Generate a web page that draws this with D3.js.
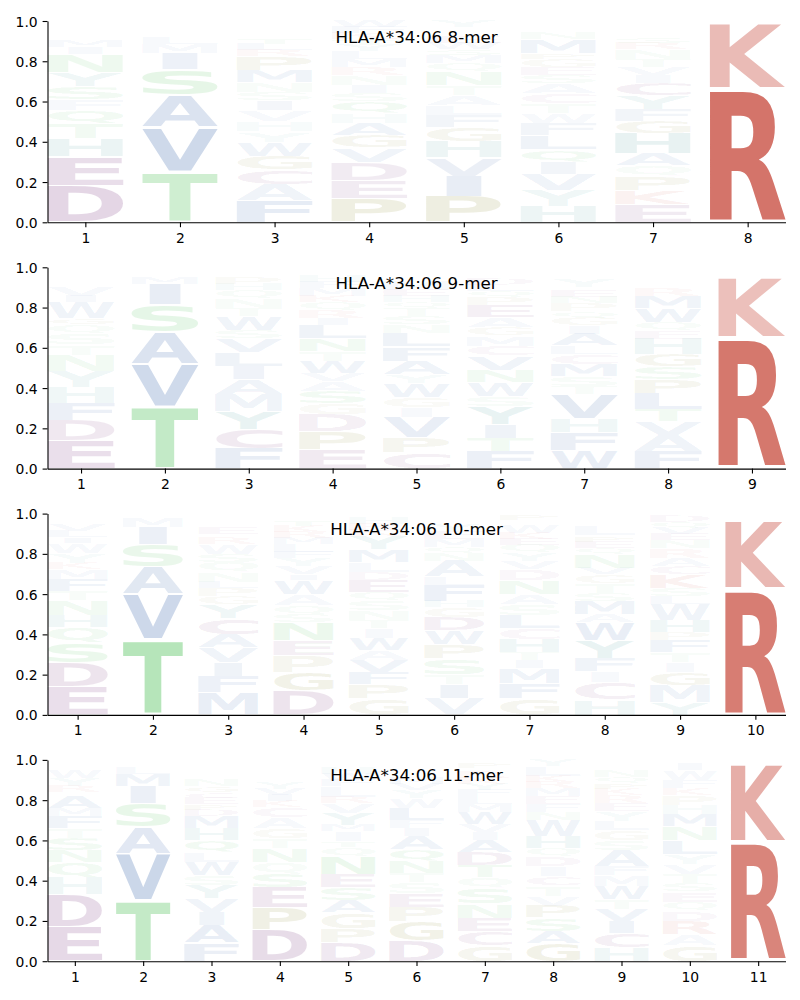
<!DOCTYPE html>
<html><head><meta charset="utf-8">
<script src="https://cdn.jsdelivr.net/npm/d3@7"></script>
<style>body{margin:0;background:#fff}</style>
</head><body>
<svg id="c" width="800" height="1000"></svg>
<script>
// ---- data (bottom -> top stacks of [letter, probability]) ----
const titles = ["HLA-A*34:06 8-mer","HLA-A*34:06 9-mer","HLA-A*34:06 10-mer","HLA-A*34:06 11-mer"];
const yTicks = [0, 0.2, 0.4, 0.6, 0.8, 1.0];

const mer8 = [
 [["D",.18],["E",.145],["H",.09],["T",.075],["Q",.065],["F",.055],["S",.065],["Y",.07],["N",.09],["I",.035],["M",.03],["K",.02],["W",.02],["L",.015],["G",.015],["A",.015],["V",.015]],
 [["T",.25],["V",.22],["A",.16],["S",.13],["I",.08],["M",.045],["L",.035],["Q",.02],["N",.02],["K",.02],["C",.02]],
 [["F",.11],["A",.08],["C",.07],["G",.07],["W",.07],["Y",.05],["H",.05],["V",.055],["I",.05],["S",.04],["N",.05],["M",.06],["P",.07],["R",.03],["L",.03],["T",.03],["K",.025],["E",.025],["D",.02],["Q",.015]],
 [["P",.12],["E",.09],["D",.09],["V",.07],["G",.06],["A",.06],["H",.05],["Q",.06],["S",.04],["I",.04],["N",.05],["R",.04],["M",.04],["L",.04],["Y",.03],["T",.03],["K",.03],["F",.03],["W",.03]],
 [["P",.13],["I",.10],["V",.09],["H",.08],["G",.07],["F",.06],["L",.05],["A",.05],["T",.05],["N",.07],["Q",.04],["M",.04],["S",.03],["W",.03],["E",.03],["D",.02],["K",.02],["R",.01],["Y",.03]],
 [["H",.08],["Y",.08],["V",.08],["I",.06],["Q",.06],["L",.07],["F",.06],["W",.05],["T",.05],["C",.05],["A",.05],["S",.04],["E",.04],["G",.04],["P",.03],["M",.07],["N",.03],["K",.02],["D",.02],["R",.02]],
 [["E",.09],["K",.07],["P",.07],["Q",.05],["A",.06],["H",.10],["G",.06],["F",.06],["Y",.07],["C",.06],["I",.04],["V",.04],["T",.04],["N",.05],["R",.03],["S",.03],["M",.02],["W",.02],["D",.02],["L",.02]],
 [["R",.665],["K",.325],["H",.005],["Y",.005]]
];
const mer9 = [
 [["E",.14],["D",.10],["F",.085],["H",.08],["Y",.08],["N",.08],["T",.05],["S",.055],["Q",.045],["G",.03],["W",.08],["I",.03],["V",.05],["K",.02],["R",.02],["L",.02],["M",.02],["A",.015]],
 [["T",.31],["V",.21],["A",.16],["S",.135],["I",.10],["M",.03],["L",.025],["Q",.015],["N",.015]],
 [["F",.10],["C",.095],["Y",.09],["M",.085],["A",.075],["I",.065],["L",.07],["V",.065],["S",.04],["W",.07],["T",.04],["N",.05],["Q",.04],["H",.03],["P",.035],["R",.015],["K",.015],["E",.01],["G",.01]],
 [["E",.095],["P",.09],["D",.085],["G",.055],["S",.06],["A",.05],["V",.04],["W",.06],["T",.05],["N",.06],["L",.07],["I",.03],["R",.04],["Q",.04],["K",.03],["M",.04],["F",.03],["H",.03],["Y",.02],["C",.025]],
 [["C",.08],["P",.075],["V",.10],["I",.05],["G",.05],["W",.07],["Y",.04],["A",.07],["F",.07],["L",.07],["N",.04],["S",.04],["T",.04],["Q",.03],["H",.03],["E",.03],["M",.05],["D",.02],["K",.02],["R",.02]],
 [["F",.085],["T",.065],["I",.07],["Y",.09],["S",.05],["W",.07],["N",.06],["V",.07],["C",.05],["M",.05],["G",.04],["A",.05],["E",.06],["P",.04],["Q",.03],["L",.03],["D",.03],["K",.02],["R",.02],["H",.02]],
 [["W",.09],["F",.09],["H",.07],["V",.12],["T",.04],["S",.05],["M",.06],["C",.05],["L",.04],["A",.06],["I",.04],["G",.04],["Q",.03],["P",.04],["N",.03],["E",.03],["D",.02],["Y",.04],["K",.02],["R",.02]],
 [["F",.085],["A",.08],["V",.07],["T",.06],["L",.08],["P",.07],["S",.06],["G",.06],["H",.08],["E",.04],["Q",.04],["W",.07],["M",.06],["R",.04],["K",.02],["N",.02],["Y",.02],["I",.02],["D",.01],["C",.01]],
 [["R",.65],["K",.30],["Y",.02],["H",.01],["M",.01],["L",.01]]
];
const mer10 = [
 [["E",.14],["D",.12],["S",.10],["Q",.075],["H",.06],["N",.075],["T",.045],["F",.06],["M",.05],["K",.03],["Y",.05],["W",.05],["I",.03],["L",.03],["V",.03],["R",.02],["A",.02],["G",.01]],
 [["T",.375],["V",.225],["A",.135],["S",.11],["I",.085],["M",.045],["L",.015],["N",.01]],
 [["M",.11],["F",.08],["I",.07],["V",.075],["A",.065],["C",.08],["Y",.07],["G",.04],["P",.04],["L",.03],["N",.05],["Q",.05],["S",.04],["W",.05],["R",.03],["K",.02],["E",.03],["D",.02],["T",.02],["H",.02]],
 [["D",.12],["G",.09],["P",.085],["E",.075],["N",.09],["S",.04],["Q",.045],["A",.055],["W",.07],["I",.03],["V",.04],["Y",.04],["F",.03],["L",.04],["M",.03],["R",.03],["K",.03],["T",.03],["H",.02],["C",.01]],
 [["G",.08],["P",.07],["F",.06],["V",.06],["A",.05],["W",.06],["I",.05],["T",.04],["N",.05],["S",.05],["Q",.04],["E",.06],["D",.04],["L",.05],["M",.06],["Y",.07],["K",.03],["R",.03],["H",.03],["C",.02]],
 [["V",.08],["I",.07],["T",.05],["S",.08],["P",.07],["W",.07],["D",.065],["G",.05],["H",.03],["F",.08],["L",.04],["A",.08],["N",.04],["Q",.03],["M",.04],["E",.04],["Y",.03],["K",.02],["R",.02],["C",.01]],
 [["G",.08],["F",.075],["M",.075],["I",.04],["T",.04],["H",.065],["C",.055],["L",.065],["S",.055],["A",.05],["N",.07],["D",.055],["V",.04],["Y",.04],["Q",.04],["E",.03],["K",.03],["W",.04],["R",.02],["P",.03]],
 [["H",.075],["C",.085],["I",.055],["F",.065],["Y",.09],["W",.09],["A",.04],["M",.065],["S",.04],["T",.05],["G",.045],["V",.03],["N",.07],["Q",.03],["E",.03],["P",.03],["L",.05],["K",.02],["R",.02],["D",.02]],
 [["Y",.06],["M",.085],["G",.065],["I",.05],["T",.05],["F",.06],["P",.04],["H",.06],["W",.08],["L",.04],["S",.04],["K",.07],["C",.04],["A",.04],["R",.05],["N",.04],["E",.03],["V",.03],["Q",.03],["D",.03]],
 [["R",.625],["K",.34],["Y",.015],["H",.01],["M",.01]]
];
const mer11 = [
 [["E",.17],["D",.16],["H",.085],["Q",.075],["N",.06],["S",.06],["T",.05],["F",.06],["M",.04],["A",.06],["K",.02],["R",.03],["Y",.04],["W",.04],["I",.02],["L",.02],["V",.01]],
 [["T",.305],["V",.23],["A",.13],["S",.12],["I",.085],["M",.06],["L",.03],["Q",.015],["N",.015],["K",.01]],
 [["F",.09],["A",.09],["I",.065],["V",.065],["Y",.065],["S",.05],["W",.065],["L",.05],["Q",.06],["H",.06],["M",.06],["D",.03],["P",.03],["E",.03],["C",.03],["G",.03],["N",.03],["R",.02],["K",.02],["T",.02]],
 [["D",.155],["P",.11],["E",.10],["S",.07],["Q",.055],["N",.07],["T",.05],["G",.05],["A",.055],["C",.05],["K",.03],["I",.03],["V",.03],["Y",.03],["R",.02],["M",.02],["L",.02],["F",.02],["H",.02],["W",.01]],
 [["D",.095],["P",.065],["G",.08],["A",.06],["S",.065],["E",.065],["N",.09],["Q",.045],["T",.03],["I",.05],["M",.03],["Y",.06],["V",.05],["R",.03],["L",.055],["F",.03],["W",.03],["H",.03],["K",.02],["C",.02]],
 [["D",.10],["G",.095],["P",.075],["E",.065],["S",.055],["T",.045],["N",.06],["Q",.06],["A",.065],["I",.04],["F",.04],["L",.06],["W",.05],["Y",.04],["V",.03],["M",.03],["K",.02],["R",.02],["H",.02],["C",.02]],
 [["G",.08],["C",.07],["E",.065],["N",.07],["S",.08],["Q",.05],["T",.06],["D",.065],["A",.06],["I",.04],["V",.04],["W",.06],["M",.04],["L",.04],["F",.03],["Y",.03],["K",.03],["R",.03],["H",.02],["P",.03]],
 [["G",.09],["A",.06],["S",.065],["P",.06],["V",.05],["T",.05],["C",.045],["I",.05],["D",.05],["Q",.04],["H",.06],["W",.08],["N",.04],["F",.04],["E",.04],["M",.04],["R",.03],["K",.03],["L",.05],["Y",.03]],
 [["H",.07],["C",.07],["I",.06],["V",.06],["T",.045],["W",.065],["M",.055],["F",.045],["A",.08],["S",.05],["G",.05],["L",.045],["Y",.05],["E",.04],["R",.04],["K",.03],["P",.03],["Q",.03],["N",.03],["D",.02]],
 [["G",.08],["A",.055],["R",.065],["D",.05],["Q",.045],["E",.05],["S",.04],["T",.045],["V",.05],["Y",.05],["L",.07],["N",.07],["M",.06],["H",.045],["P",.05],["K",.035],["F",.04],["W",.05],["I",.03],["C",.02]],
 [["R",.59],["K",.39],["Y",.01],["H",.01]]
];
const panels = [mer8, mer9, mer10, mer11];

// colour groups
const groupLetters = ["KR","DEC","STNQ","AVILMFW","HY","GP"];
const groupColors  = ["#bf2f1f","#691e6e","#3eba49","#1e50a0","#1e8282","#787814"];

// ---- layout ----
const left = 47.5, right = 785.5;
const panelTop0 = 21, panelStep = 246.3, panelH = 201.3;
const glyphWidth = 0.8, vpad = 0.05;
const FONT = '"DejaVu Sans", sans-serif';

const colorOf = {};
groupLetters.forEach((s,i)=>{ for (const c of s) colorOf[c] = groupColors[i]; });

const ctx = document.createElement('canvas').getContext('2d');
ctx.font = 'bold 100px "DejaVu Sans"';
const inkCache = {};
function ink(c){
  if (!inkCache[c]) {
    const m = ctx.measureText(c);
    inkCache[c] = {l:m.actualBoundingBoxLeft, r:m.actualBoundingBoxRight,
                   a:m.actualBoundingBoxAscent, d:m.actualBoundingBoxDescent};
  }
  return inkCache[c];
}
const refInk = ink("E");
const refW = (refInk.l + refInk.r) * 0.79;

const svg = d3.select('#c');

function drawGlyph(g, c, x0, x1, yTop, yBot, alpha){
  const m = ink(c);
  const iw = m.l + m.r, ih = m.a + m.d;
  const bw = x1 - x0, bh = yBot - yTop;
  if (bh <= 0.05) return;
  const hs = Math.min(bw/iw, bw/refW);
  const vs = bh/ih;
  const shift = (bw - hs*iw)/2;
  g.append('text')
    .attr('transform', `translate(${x0+shift},${yTop}) scale(${hs},${vs}) translate(${m.l},${m.a})`)
    .attr('font-family', FONT).attr('font-weight','bold').attr('font-size', 100)
    .attr('fill', colorOf[c]).attr('fill-opacity', Math.min(1, alpha))
    .text(c);
}

panels.forEach((data, i) => {
  const top = panelTop0 + i*panelStep;
  const L = data.length;
  const x = d3.scaleLinear().domain([1 - glyphWidth/2, L + glyphWidth/2]).range([left, right]);
  const y = d3.scaleLinear().domain([0, 1]).range([top + panelH, top]);
  const g = svg.append('g');

  data.forEach((stack, j) => {
    const pos = j + 1;
    let floor = 0;
    const x0 = x(pos - glyphWidth/2), x1 = x(pos + glyphWidth/2);
    stack.forEach(([c, v]) => {
      const yb = floor + v*vpad/2, yt = floor + v - v*vpad/2;
      drawGlyph(g, c, x0, x1, y(yt), y(yb), v);
      floor += v;
    });
  });

  // axes
  const xa = g.append('g').attr('transform', `translate(0,${top + panelH})`)
    .call(d3.axisBottom(x).tickValues(d3.range(1, L + 1)).tickFormat(d3.format('d')).tickSize(4.9).tickSizeOuter(0));
  xa.selectAll('text').attr('dy', null).attr('y', 20.5);
  const ya = g.append('g').attr('transform', `translate(${left},0)`)
    .call(d3.axisLeft(y).tickValues(yTicks).tickFormat(d3.format('.1f')).tickSize(4.9).tickSizeOuter(0).tickPadding(4.9));
  ya.selectAll('text').attr('dy', '0.36em');
  [xa, ya].forEach(a => {
    a.attr('font-family', FONT).attr('font-size', 13.9);
    a.selectAll('text').attr('fill', '#000');
    a.selectAll('line').attr('stroke', '#000').attr('stroke-width', 1.1);
    a.select('.domain').attr('stroke', '#000').attr('stroke-width', 1.1);
  });

  g.append('text').attr('x', (left + right)/2).attr('y', top + 21.5)
    .attr('text-anchor', 'middle').attr('font-family', FONT).attr('font-size', 16.7)
    .attr('fill', '#000').text(titles[i]);
});
</script>
</body></html>
